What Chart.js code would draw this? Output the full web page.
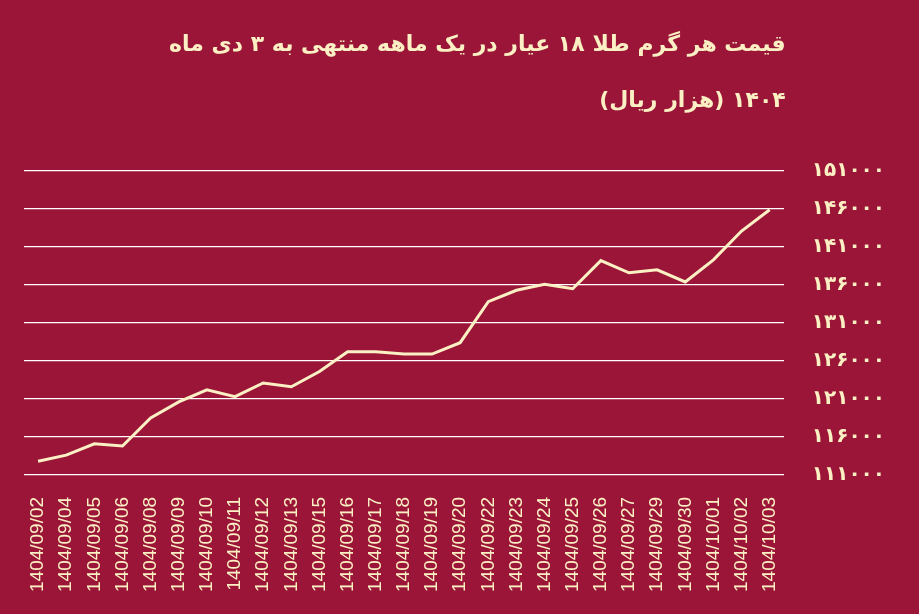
<!DOCTYPE html>
<html><head><meta charset="utf-8">
<script src="https://cdn.jsdelivr.net/npm/chart.js@4/dist/chart.umd.min.js"></script>
<style>html,body{margin:0;padding:0;background:#9a1538;}#w{width:919px;height:614px;position:relative;}</style>
</head><body><div id="w"><canvas id="c"></canvas></div>
<script>
const categories=["1404/09/02","1404/09/04","1404/09/05","1404/09/06","1404/09/08","1404/09/09","1404/09/10","1404/09/11","1404/09/12","1404/09/13","1404/09/15","1404/09/16","1404/09/17","1404/09/18","1404/09/19","1404/09/20","1404/09/22","1404/09/23","1404/09/24","1404/09/25","1404/09/26","1404/09/27","1404/09/29","1404/09/30","1404/10/01","1404/10/02","1404/10/03"];
const prices=[112800,113600,115100,114800,118500,120600,122200,121300,123100,122600,124600,127200,127200,126900,126900,128400,133800,135300,136100,135500,139200,137600,138000,136400,139300,143100,145900];
const titleLines=["قیمت هر گرم طلا ۱۸ عیار در یک ماهه منتهی به ۳ دی ماه","۱۴۰۴ (هزار ریال)"];
const fa=s=>String(s).replace(/\d/g,d=>"۰۱۲۳۴۵۶۷۸۹"[d]);
const cream="#fbf0c4";
const titlePlugin={id:'rtitle',afterDraw(ch){const c=ch.ctx;c.save();c.fillStyle=cream;c.font="bold 22px 'DejaVu Sans'";c.textAlign='right';c.textBaseline='middle';c.direction='rtl';
const x=ch.chartArea.right+2;c.fillText(titleLines[0],x,45);c.fillText(titleLines[1],x,101);c.restore();}};
new Chart(document.getElementById('c'),{type:'line',
data:{labels:categories,datasets:[{data:prices,borderColor:cream,borderWidth:3,pointRadius:0,tension:0}]},
plugins:[titlePlugin],
options:{responsive:true,maintainAspectRatio:false,animation:false,
layout:{padding:{left:24,right:6,top:171,bottom:8}},
plugins:{legend:{display:false},tooltip:{enabled:false},title:{display:false}},
scales:{x:{grid:{display:false},border:{display:false},offset:true,
ticks:{color:cream,maxRotation:90,minRotation:90,autoSkip:false,padding:14,font:{family:"Liberation Sans",size:19}}},
y:{position:'right',min:111000,max:151000,border:{display:false},
grid:{color:'#ffffff',lineWidth:1.3,drawTicks:false},
ticks:{stepSize:5000,padding:28,color:cream,font:{family:"DejaVu Sans",size:20,weight:'bold'},callback:v=>fa(v)}}}}});
</script></body></html>
